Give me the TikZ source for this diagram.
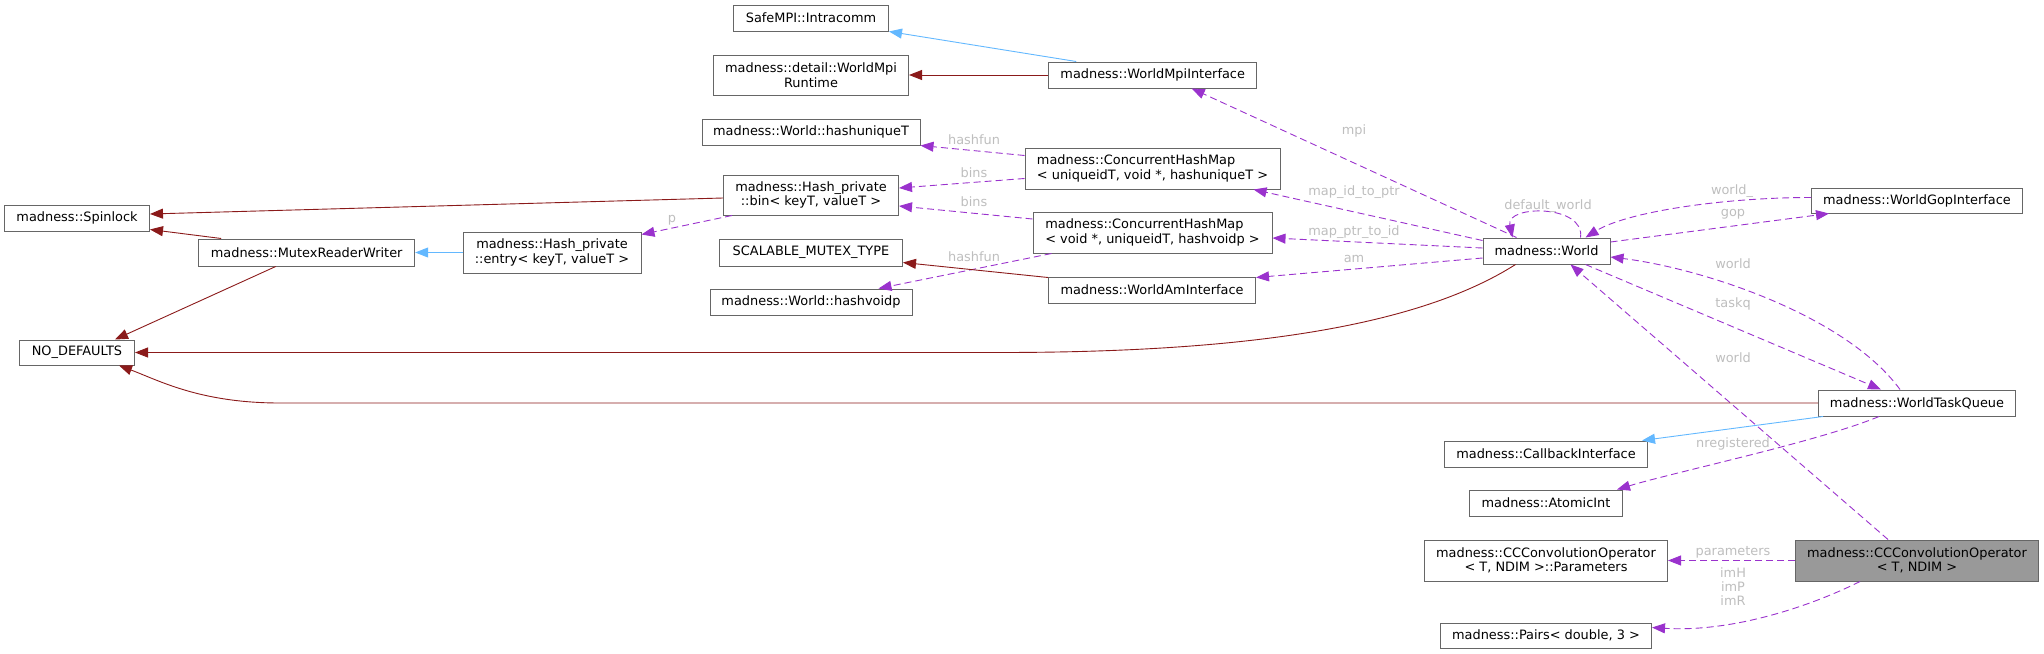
\documentclass[tikz,border=0pt]{standalone}
\usepackage{fontspec}
\setmainfont{DejaVu Sans}
\usetikzlibrary{arrows.meta,calc}
\definecolor{boxborder}{HTML}{666666}
\definecolor{greyfill}{HTML}{999999}
\definecolor{inhcol}{HTML}{63B8FF}
\definecolor{privcol}{HTML}{8B1A1A}
\definecolor{usecol}{HTML}{9A32CD}
\definecolor{lblcol}{HTML}{BEBEBE}
\tikzset{
  cls/.style={draw=boxborder, line width=1pt, fill=white, inner sep=0pt, align=center,
    font=\fontsize{12.9}{14.5}\selectfont},
  clsl/.style={cls, align=left},
  tip/.style={-{Triangle[length=13pt,width=10pt]}},
  inh/.style={tip, draw=inhcol, line width=0.9pt},
  priv/.style={tip, draw=privcol, line width=0.9pt},
  use/.style={tip, draw=usecol, line width=0.9pt, dash pattern=on 7pt off 4pt},
  lbl/.style={text=lblcol, inner sep=0pt, align=center, font=\fontsize{12.9}{14}\selectfont}
}
\begin{document}
\begin{tikzpicture}[x=1pt, y=-1pt]
\useasboundingbox (0,0) rectangle (2044,653);
% nodes
\node[cls, minimum width=155pt, minimum height=26pt] (intra) at (811,18) {SafeMPI::Intracomm};
\node[cls, minimum width=195pt, minimum height=40pt] (runtime) at (811,75) {madness::detail::WorldMpi\\Runtime};
\node[cls, minimum width=218pt, minimum height=26pt] (huniq) at (811,132) {madness::World::hashuniqueT};
\node[cls, minimum width=175pt, minimum height=40pt] (bin) at (811,195) {madness::Hash\_private\\::bin< keyT, valueT >};
\node[cls, minimum width=183pt, minimum height=27pt] (scal) at (811,252.5) {SCALABLE\_MUTEX\_TYPE};
\node[cls, minimum width=202pt, minimum height=26pt] (hvoid) at (811,302) {madness::World::hashvoidp};
\node[cls, minimum width=208pt, minimum height=26pt] (wmi) at (1152.7,75) {madness::WorldMpiInterface};
\node[clsl, minimum width=255pt, minimum height=41pt] (chm1) at (1152.5,168.5) {madness::ConcurrentHashMap\\< uniqueidT, void *, hashuniqueT >};
\node[clsl, minimum width=239pt, minimum height=41pt] (chm2) at (1152.5,232.5) {madness::ConcurrentHashMap\\< void *, uniqueidT, hashvoidp >};
\node[cls, minimum width=207pt, minimum height=26pt] (wam) at (1152,290) {madness::WorldAmInterface};
\node[cls, minimum width=127pt, minimum height=26pt] (world) at (1546.5,251) {madness::World};
\node[cls, minimum width=211pt, minimum height=25pt] (gop) at (1917,200.5) {madness::WorldGopInterface};
\node[cls, minimum width=197pt, minimum height=26pt] (wtq) at (1917,403) {madness::WorldTaskQueue};
\node[cls, minimum width=203pt, minimum height=26pt] (cb) at (1546,454) {madness::CallbackInterface};
\node[cls, minimum width=153pt, minimum height=26pt] (atomic) at (1546,503) {madness::AtomicInt};
\node[cls, minimum width=243pt, minimum height=41pt] (params) at (1546,560.5) {madness::CCConvolutionOperator\\< T, NDIM >::Parameters};
\node[cls, fill=greyfill, minimum width=243pt, minimum height=41pt] (ccco) at (1917,560.5) {madness::CCConvolutionOperator\\< T, NDIM >};
\node[cls, minimum width=211pt, minimum height=25pt] (pairs) at (1546,635.5) {madness::Pairs< double, 3 >};
\node[cls, minimum width=145pt, minimum height=26pt] (spin) at (77,218) {madness::Spinlock};
\node[cls, minimum width=216pt, minimum height=27pt] (mutex) at (306.7,252.5) {madness::MutexReaderWriter};
\node[cls, minimum width=178pt, minimum height=41pt] (entry) at (552,252.5) {madness::Hash\_private\\::entry< keyT, valueT >};
\node[cls, minimum width=115pt, minimum height=25pt] (nodef) at (77,352.5) {NO\_DEFAULTS};
\coordinate (bendA) at (1000,352.5);
\coordinate (bendB) at (280,403);
% edges
\draw[inh] ($(wmi.north west)+(28,0)$) -- (intra.south east);
\draw[priv] (wmi.west) -- (runtime.east);
\draw[use] ($(world.north west)+(34,0)$) -- ($(wmi.south)+(39,0)$);
\draw[use] ($(world.north west)+(0,3)$) -- ($(chm1.south east)+(-27,0)$);
\draw[use] ($(world.west)+(0,-3)$) -- ($(chm2.east)+(0,5.5)$);
\draw[use] ($(world.west)+(0,7)$) -- ($(wam.north east)+(0,1)$);
\draw[use] ($(world.north)+(34,0)$) .. controls +(5,-33) and +(-7,-33) .. ($(world.north)+(-34,0)$);
\draw[use] ($(gop.west)+(0,-3)$) .. controls +(-91,0) and +(40,-25) .. ($(world.north east)+(-25,0)$);
\draw[use] ($(world.east)+(0,-9)$) -- ($(gop.south west)+(18,0)$);
\draw[use] ($(wtq.north)+(-17,0)$) .. controls +(-55,-75) and +(90,11) .. ($(world.east)+(0,6)$);
\draw[use] ($(world.south east)+(-25,0)$) -- ($(wtq.north)+(-36,0)$);
\draw[use] ($(ccco.north)+(-29,0)$) -- ($(world.south)+(24,0)$);
\draw[inh] ($(wtq.south west)+(5,0)$) -- ($(cb.north east)+(-6,0)$);
\draw[use] ($(wtq.south)+(-38,0)$) .. controls +(-60,25) and +(60,-18) .. ($(atomic.north east)+(-6,0)$);
\draw[use] (ccco.west) -- (params.east);
\draw[use] ($(ccco.south)+(-57,0)$) .. controls +(-50,25) and +(80,5) .. ($(pairs.east)+(0,-8)$);
\draw[priv] (wtq.west) -- (bendB) .. controls +(-80,0) and +(40,15) .. ($(nodef.south east)+(-16,0)$);
\draw[priv] ($(world.south west)+(33,0)$) .. controls +(-96,61) and +(250,0) .. (bendA) -- (nodef.east);
\draw[priv] ($(mutex.south)+(-31,0)$) -- ($(nodef.north east)+(-20,0)$);
\draw[priv] ($(mutex.north west)+(23,0)$) -- ($(spin.south east)+(0,-2)$);
\draw[inh] (entry.west) -- (mutex.east);
\draw[priv] ($(bin.west)+(0,3)$) -- ($(spin.east)+(0,-4)$);
\draw[use] ($(bin.south west)+(9,0)$) -- ($(entry.north east)+(0,3)$);
\draw[use] ($(chm1.west)+(0,-13)$) -- (huniq.south east);
\draw[use] ($(chm1.west)+(0,10)$) -- ($(bin.east)+(0,-7)$);
\draw[use] ($(chm2.west)+(0,-13.5)$) -- ($(bin.east)+(0,11)$);
\draw[use] ($(chm2.south west)+(19,0)$) -- ($(hvoid.north east)+(-34,0)$);
\draw[priv] ($(wam.north west)+(0,1)$) -- ($(scal.east)+(0,10)$);
% labels
\node[lbl] (lmpi) at (1354,131) {mpi};
\node[lbl] (lmid) at (1354,192) {map\_id\_to\_ptr};
\node[lbl] (lmpt) at (1354,232) {map\_ptr\_to\_id};
\node[lbl] (lam) at (1354,259) {am};
\node[lbl] (ldef) at (1548,206) {default\_world};
\node[lbl] (lwu) at (1732,191) {world\_};
\node[lbl] (lgop) at (1733,214) {gop};
\node[lbl] (lw1) at (1733,264) {world};
\node[lbl] (ltq) at (1733,304) {taskq};
\node[lbl] (lw2) at (1733,358) {world};
\node[lbl] (lnr) at (1733,444) {nregistered};
\node[lbl] (lpar) at (1733,552) {parameters};
\node[lbl] (lim) at (1733,587) {imH\\imP\\imR};
\node[lbl] (lh1) at (974,140) {hashfun};
\node[lbl] (lb1) at (974,173) {bins};
\node[lbl] (lb2) at (974,202) {bins};
\node[lbl] (lh2) at (974,257) {hashfun};
\node[lbl] (lp) at (672,220) {p};
\end{tikzpicture}
\end{document}
